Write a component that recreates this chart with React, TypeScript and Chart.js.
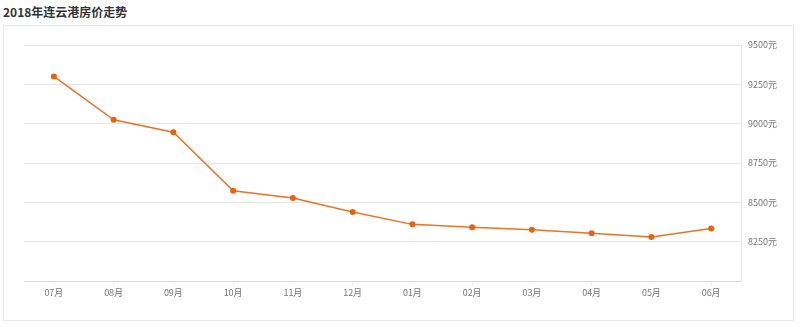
import React, { useEffect, useRef } from "react";
import { Chart, registerables } from "chart.js";

Chart.register(...registerables);

const months = ["07月", "08月", "09月", "10月", "11月", "12月", "01月", "02月", "03月", "04月", "05月", "06月"];
const prices = [9300, 9025, 8946, 8574, 8527, 8438, 8360, 8341, 8325, 8304, 8279, 8334];
const yTicks = [8000, 8250, 8500, 8750, 9000, 9250, 9500];
const unit = "元";

const FONT = '"Noto Sans CJK SC", "Noto Sans", sans-serif';

export default function App() {
  const ref = useRef<HTMLCanvasElement | null>(null);

  useEffect(() => {
    document.body.style.margin = "0";
    const ctx = ref.current;
    if (!ctx) return;
    const chart = new Chart(ctx, {
      type: "line",
      data: {
        labels: months,
        datasets: [
          {
            data: prices,
            borderColor: "#ea7326",
            backgroundColor: "#e5620f",
            pointBackgroundColor: "#e5620f",
            pointBorderColor: "#e5620f",
            borderWidth: 1.5,
            pointBorderWidth: 0,
            pointRadius: 3,
            pointHoverRadius: 3,
            tension: 0,
            fill: false,
          },
        ],
      },
      options: {
        animation: false,
        responsive: false,
        maintainAspectRatio: false,
        layout: { padding: { left: 24, top: 45, right: 0, bottom: 0 } },
        plugins: {
          legend: { display: false },
          title: { display: false },
          tooltip: { enabled: false },
        },
        scales: {
          x: {
            type: "category",
            offset: true,
            grid: {
              display: true,
              drawOnChartArea: false,
              drawTicks: true,
              tickLength: 4,
              offset: false,
              color: "#f0f0f0",
            },
            border: { display: true, color: "#d9d9d9", width: 1 },
            ticks: {
              color: "#777777",
              font: { family: FONT, size: 9 },
              padding: 2,
              maxRotation: 0,
              autoSkip: false,
            },
            afterFit: (scale: any) => {
              scale.height = 46;
            },
          },
          y: {
            type: "linear",
            position: "right",
            min: 8000,
            max: 9500,
            afterBuildTicks: (scale: any) => {
              scale.ticks = yTicks.map((v) => ({ value: v }));
            },
            grid: {
              color: (c: any) => (c.tick && c.tick.value === 8000 ? "rgba(0,0,0,0)" : "#e6e6e6"),
              drawTicks: false,
              lineWidth: 1,
            },
            border: { display: true, color: "#e6e6e6", width: 1 },
            ticks: {
              color: "#777777",
              font: { family: FONT, size: 9 },
              padding: 7,
              callback: (v: any) => (v === 8000 ? "" : `${v}${unit}`),
            },
            afterFit: (scale: any) => {
              scale.width = 59;
            },
          },
        },
      },
    });
    return () => chart.destroy();
  }, []);

  return (
    <div style={{ position: "relative", width: 800, height: 327, background: "#fff", overflow: "hidden" }}>
      <div
        style={{
          position: "absolute",
          left: 3,
          top: 3,
          fontFamily: FONT,
          fontWeight: 700,
          fontSize: 12,
          lineHeight: "17px",
          color: "#333333",
          whiteSpace: "nowrap",
        }}
      >
        2018年连云港房价走势
      </div>
      <div
        style={{
          position: "absolute",
          left: 3,
          top: 25,
          width: 791,
          height: 296,
          border: "1px solid #e8e8e8",
          boxSizing: "border-box",
        }}
      />
      <canvas
        ref={ref}
        width={800}
        height={327}
        style={{ position: "absolute", left: 0, top: 0, width: 800, height: 327 }}
      />
    </div>
  );
}
